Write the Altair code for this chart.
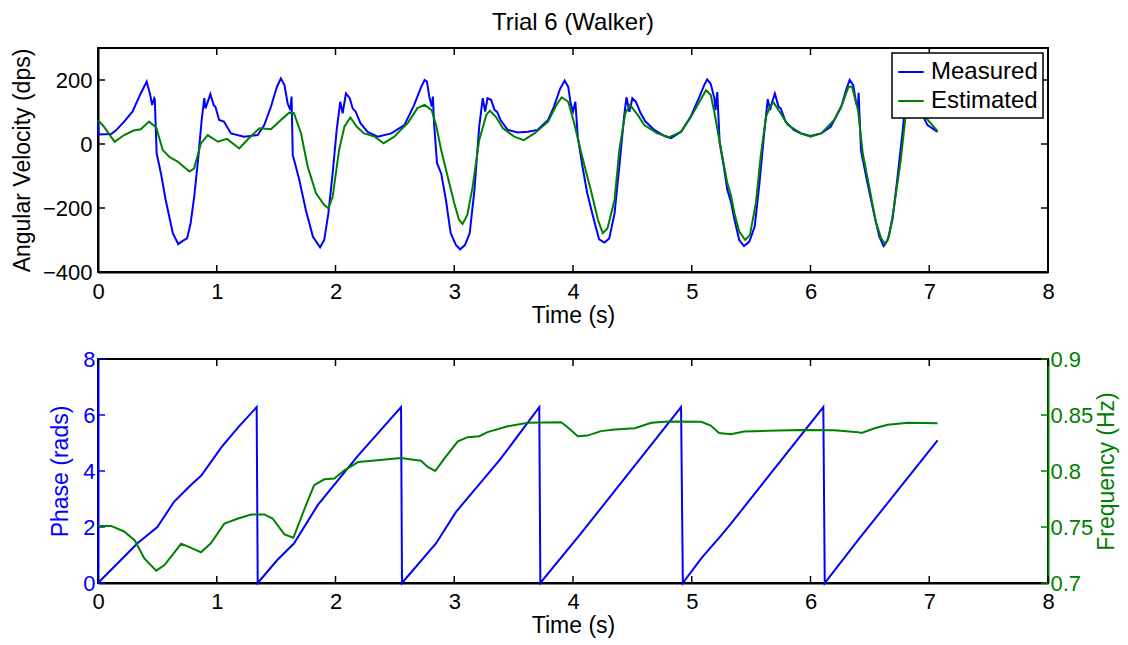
import altair as alt
import pandas as pd

FONT = "Liberation Sans"
BLUE = "#0000ff"
GREEN = "#008000"

# ---------------- data ----------------
meas_t = [0.0, 0.005, 0.11, 0.15, 0.22, 0.29, 0.36, 0.41, 0.44, 0.456, 0.474, 0.478, 0.494,
          0.53, 0.57, 0.63, 0.676, 0.713, 0.75, 0.78, 0.81, 0.845, 0.873, 0.895, 0.905, 0.92,
          0.946, 0.974, 0.99, 1.02, 1.06, 1.12, 1.23, 1.345, 1.40, 1.457, 1.507, 1.54, 1.57,
          1.597, 1.62, 1.63, 1.64, 1.695, 1.75, 1.81, 1.87, 1.905, 1.94, 1.976, 2.01, 2.04,
          2.06, 2.088, 2.12, 2.145, 2.17, 2.21, 2.27, 2.355, 2.47, 2.58, 2.66, 2.72, 2.75,
          2.77, 2.79, 2.81, 2.82, 2.83, 2.855, 2.89, 2.93, 2.97, 3.015, 3.05, 3.09, 3.13,
          3.17, 3.21, 3.24, 3.26, 3.28, 3.31, 3.34, 3.36, 3.39, 3.45, 3.535, 3.62, 3.70,
          3.79, 3.84, 3.89, 3.93, 3.96, 3.98, 4.0, 4.02, 4.04, 4.08, 4.12, 4.18, 4.22,
          4.265, 4.305, 4.35, 4.39, 4.43, 4.45, 4.475, 4.50, 4.53, 4.57, 4.61, 4.685, 4.77,
          4.825, 4.91, 4.99, 5.065, 5.105, 5.13, 5.16, 5.19, 5.20, 5.215, 5.235, 5.27, 5.30,
          5.33, 5.36, 5.40, 5.44, 5.485, 5.53, 5.57, 5.61, 5.64, 5.66, 5.675, 5.70, 5.73,
          5.75, 5.79, 5.86, 5.92, 6.0, 6.09, 6.17, 6.26, 6.30, 6.33, 6.36, 6.385, 6.40,
          6.405, 6.425, 6.48, 6.54, 6.58, 6.615, 6.65, 6.69, 6.73, 6.78, 6.80, 6.83, 6.86,
          6.90, 6.93, 6.985, 7.07]
meas_v = [72, 30, 31, 42, 70, 101, 158, 195, 153, 122, 143, 140, -29,
          -92, -175, -279, -313, -303, -295, -248, -165, -40, 75, 143, 111, 127,
          156, 122, 115, 75, 70, 33, 23, 28, 59, 117, 179, 205, 184,
          127, 106, 148, -34, -112, -206, -290, -323, -300, -217, -92, 44, 132,
          96, 158, 143, 111, 101, 65, 38, 23, 33, 59, 120, 177, 200,
          195, 148, 117, 148, 65, -60, -92, -175, -279, -316, -329, -316, -279,
          -144, 54, 143, 101, 143, 138, 106, 101, 75, 44, 36, 38, 44,
          75, 117, 171, 198, 179, 127, 101, 132, 23, -71, -154, -243, -298,
          -308, -295, -217, -71, 85, 146, 101, 143, 132, 96, 70, 44, 25,
          18, 38, 85, 148, 184, 202, 188, 143, 106, 162, 5, -71, -144,
          -180, -237, -300, -319, -305, -258, -123, 33, 140, 106, 129, 158, 117,
          111, 70, 44, 33, 25, 33, 54, 117, 169, 200, 184, 127, 117,
          160, -19, -123, -227, -290, -319, -300, -237, -112, 54, 148, 160, 150,
          125, 101, 59, 38]

est_t = [0.0, 0.05, 0.14, 0.22, 0.30, 0.36, 0.43, 0.49, 0.545, 0.60, 0.67, 0.77, 0.81,
         0.867, 0.924, 1.01, 1.086, 1.19, 1.27, 1.36, 1.457, 1.54, 1.61, 1.65, 1.71, 1.766,
         1.836, 1.906, 1.94, 1.976, 2.03, 2.075, 2.125, 2.18, 2.24, 2.33, 2.405, 2.495,
         2.55, 2.61, 2.69, 2.75, 2.81, 2.85, 2.89, 2.945, 3.0, 3.04, 3.07, 3.11, 3.155,
         3.21, 3.27, 3.30, 3.35, 3.41, 3.505, 3.585, 3.675, 3.79, 3.86, 3.905, 3.96, 4.01,
         4.07, 4.15, 4.21, 4.25, 4.29, 4.35, 4.39, 4.44, 4.48, 4.545, 4.60, 4.71, 4.81,
         4.91, 4.99, 5.065, 5.12, 5.16, 5.19, 5.245, 5.30, 5.33, 5.36, 5.40, 5.45, 5.49,
         5.54, 5.58, 5.625, 5.665, 5.69, 5.74, 5.81, 5.92, 6.0, 6.09, 6.2, 6.27, 6.32,
         6.35, 6.40, 6.44, 6.50, 6.55, 6.595, 6.63, 6.66, 6.70, 6.76, 6.80, 6.85, 6.93,
         7.07]
est_v = [75, 54, 7, 28, 42, 46, 70, 52, -19, -40, -55, -86, -76,
         2, 28, 7, 16, -14, 18, 49, 46, 75, 98, 96, 33, -71,
         -154, -191, -201, -165, -19, 54, 83, 54, 33, 23, 2, 23,
         44, 66, 112, 122, 106, 54, -19, -102, -185, -237, -250, -222, -133,
         12, 91, 104, 85, 49, 23, 12, 33, 70, 122, 146, 132, 65,
         -29, -144, -237, -279, -264, -175, -19, 96, 122, 91, 59, 33, 21,
         38, 83, 132, 168, 153, 100, -14, -123, -160, -217, -274, -300, -284,
         -185, -40, 85, 122, 129, 101, 59, 33, 23, 33, 75, 127, 179,
         179, 106, -29, -144, -243, -295, -313, -290, -206, -50, 85, 130, 100,
         40]

phase_t = [0.0, 0.22, 0.33, 0.50, 0.64, 0.78, 0.87, 1.04, 1.18, 1.336, 1.345, 1.51, 1.65,
           1.85, 2.19, 2.552, 2.56, 2.846, 3.015, 3.39, 3.716, 3.725, 4.067, 4.91, 4.925,
           5.08, 5.25, 5.33, 6.108, 6.12, 6.40, 7.07]
phase_v = [0.0, 0.94, 1.41, 2.0, 2.9, 3.49, 3.84, 4.85, 5.56, 6.28, 0.0, 0.82, 1.41,
           2.78, 4.55, 6.28, 0.0, 1.41, 2.54, 4.43, 6.28, 0.0, 1.77, 6.28, 0.0,
           0.88, 1.71, 2.12, 6.28, 0.0, 1.53, 5.09]

freq_t = [0.0, 0.11, 0.22, 0.31, 0.39, 0.49, 0.56, 0.70, 0.78, 0.867, 0.95, 1.064, 1.18,
          1.29, 1.40, 1.47, 1.57, 1.645, 1.74, 1.82, 1.906, 1.99, 2.075, 2.19, 2.355, 2.55,
          2.72, 2.776, 2.84, 2.916, 3.03, 3.113, 3.21, 3.28, 3.45, 3.62, 3.90, 3.955, 4.04,
          4.12, 4.236, 4.35, 4.52, 4.66, 4.80, 5.08, 5.16, 5.23, 5.33, 5.44, 5.64, 5.92,
          6.20, 6.40, 6.43, 6.54, 6.65, 6.82, 7.07]
freq_v = [0.751, 0.751, 0.746, 0.738, 0.722, 0.711, 0.716, 0.735, 0.7316, 0.7274, 0.7354,
          0.753, 0.7576, 0.7612, 0.7612, 0.7576, 0.7434, 0.7404, 0.7665, 0.7873, 0.7926,
          0.7932, 0.8006, 0.808, 0.8095, 0.8116, 0.8092, 0.8036, 0.800, 0.811, 0.8264,
          0.8302, 0.8311, 0.8347, 0.840, 0.843, 0.8436, 0.8391, 0.8311, 0.8316, 0.8356,
          0.837, 0.8382, 0.843, 0.8442, 0.8440, 0.8406, 0.834, 0.8329, 0.8353, 0.8359,
          0.8367, 0.8364, 0.8347, 0.834, 0.8382, 0.8412, 0.843, 0.8427]

x_ticks = [0, 1, 2, 3, 4, 5, 6, 7, 8]
vel_ticks = [-400, -200, 0, 200]
phase_ticks = [0, 2, 4, 6, 8]
freq_ticks = [0.7, 0.75, 0.8, 0.85, 0.9]
series_names = ["Measured", "Estimated"]

# ---------------- layout constants ----------------
W, H = 950, 224
TICK = 7
LW = 2

meas_df = pd.DataFrame({"t": meas_t, "v": meas_v, "series": "Measured", "i": range(len(meas_t))})
est_df = pd.DataFrame({"t": est_t, "v": est_v, "series": "Estimated", "i": range(len(est_t))})
phase_df = pd.DataFrame({"t": phase_t, "p": phase_v, "i": range(len(phase_t))})
freq_df = pd.DataFrame({"t": freq_t, "f": freq_v, "i": range(len(freq_t))})
xt_df = pd.DataFrame({"t": x_ticks})
vt_df = pd.DataFrame({"v": vel_ticks})
pt_df = pd.DataFrame({"p": phase_ticks})
ft_df = pd.DataFrame({"f": freq_ticks})

x_scale = alt.Scale(domain=[0, 8], nice=False, zero=False)
x_axis_top = alt.Axis(values=x_ticks, title="Time (s)", labelPadding=9,
                      titleY=50, titleBaseline="alphabetic", format="d", labelFlush=False)
x_axis_bot = alt.Axis(values=x_ticks, title="Time (s)", labelPadding=8,
                      titleY=49, titleBaseline="alphabetic", format="d", labelFlush=False)

vy_scale = alt.Scale(domain=[-400, 300], nice=False, zero=False)
vy_axis = alt.Axis(values=vel_ticks, title="Angular Velocity (dps)", labelPadding=6,
                   titlePadding=8, format="d")
py_scale = alt.Scale(domain=[0, 8], nice=False, zero=False)
py_axis = alt.Axis(orient="left", values=phase_ticks, title="Phase (rads)",
                   labelColor=BLUE, titleColor=BLUE, domainColor=BLUE,
                   labelPadding=3, titlePadding=10, format="d")
fy_scale = alt.Scale(domain=[0.7, 0.9], nice=False, zero=False)
fy_axis = alt.Axis(orient="right", values=freq_ticks, title="Frequency (Hz)",
                   labelColor=GREEN, titleColor=GREEN, domainColor=GREEN,
                   labelPadding=2, titlePadding=3, format=".2~f",
                   titleAngle=270, titleBaseline="top")

# ---------------- top panel ----------------
color = alt.Color("series:N",
                  scale=alt.Scale(domain=series_names, range=[BLUE, GREEN]),
                  legend=alt.Legend(title=None, orient="top-right", offset=5, padding=5,
                                    fillColor="white", strokeColor="black",
                                    labelFont=FONT, labelFontSize=24, labelColor="black",
                                    symbolType="stroke", symbolSize=650, symbolStrokeWidth=LW,
                                    rowPadding=3, labelOffset=6, zindex=1))

meas_line = alt.Chart(meas_df).mark_line(strokeWidth=LW).encode(
    x=alt.X("t:Q", scale=x_scale, axis=x_axis_top),
    y=alt.Y("v:Q", scale=vy_scale, axis=vy_axis),
    color=color, order="i:Q")
est_line = alt.Chart(est_df).mark_line(strokeWidth=LW).encode(
    x=alt.X("t:Q", scale=x_scale, axis=x_axis_top),
    y=alt.Y("v:Q", scale=vy_scale, axis=vy_axis),
    color=color, order="i:Q")


def xticks_rules(axis):
    top = alt.Chart(xt_df).mark_rule(color="black", strokeWidth=1.5).encode(
        x=alt.X("t:Q", scale=x_scale, axis=axis), y=alt.value(0), y2=alt.value(TICK))
    bot = alt.Chart(xt_df).mark_rule(color="black", strokeWidth=1.5).encode(
        x=alt.X("t:Q", scale=x_scale, axis=axis), y=alt.value(H), y2=alt.value(H - TICK))
    return [top, bot]


def yticks_rules(df, field, scale, axis, col, left=True, right=True):
    out = []
    if left:
        out.append(alt.Chart(df).mark_rule(color=col, strokeWidth=1.5).encode(
            y=alt.Y(f"{field}:Q", scale=scale, axis=axis), x=alt.value(0), x2=alt.value(TICK)))
    if right:
        out.append(alt.Chart(df).mark_rule(color=col, strokeWidth=1.5).encode(
            y=alt.Y(f"{field}:Q", scale=scale, axis=axis), x=alt.value(W), x2=alt.value(W - TICK)))
    return out


top = alt.layer(meas_line, est_line, *xticks_rules(x_axis_top),
                *yticks_rules(vt_df, "v", vy_scale, vy_axis, "black")).properties(
    width=W, height=H,
    title=alt.TitleParams("Trial 6 (Walker)", font=FONT, fontSize=24, fontWeight="normal",
                          color="black", frame="group", anchor="middle", offset=12))

# ---------------- bottom panel ----------------
phase_line = alt.Chart(phase_df).mark_line(color=BLUE, strokeWidth=LW).encode(
    x=alt.X("t:Q", scale=x_scale, axis=x_axis_bot),
    y=alt.Y("p:Q", scale=py_scale, axis=py_axis),
    order="i:Q")
freq_line = alt.Chart(freq_df).mark_line(color=GREEN, strokeWidth=LW).encode(
    x=alt.X("t:Q", scale=x_scale, axis=x_axis_bot),
    y=alt.Y("f:Q", scale=fy_scale, axis=fy_axis),
    order="i:Q")

left_group = alt.layer(phase_line, *xticks_rules(x_axis_bot),
                       *yticks_rules(pt_df, "p", py_scale, py_axis, BLUE, right=False))
right_group = alt.layer(freq_line,
                        *yticks_rules(ft_df, "f", fy_scale, fy_axis, GREEN, left=False))
bottom = alt.layer(left_group, right_group).resolve_scale(y="independent").properties(
    width=W, height=H)

chart = alt.vconcat(top, bottom, spacing=19).properties(
    padding={"left": 2, "top": 2, "right": 0, "bottom": 0}
).configure_view(
    stroke="black", strokeWidth=2
).configure_axis(
    labelFont=FONT, labelFontSize=22, labelColor="black",
    titleFont=FONT, titleFontSize=23, titleFontWeight="normal", titleColor="black",
    grid=False, ticks=False, tickSize=0, domainColor="black", domainWidth=2
).configure_legend(strokeWidth=1.5)

chart.save("out.html", embed_options={"renderer": "svg", "actions": False})
